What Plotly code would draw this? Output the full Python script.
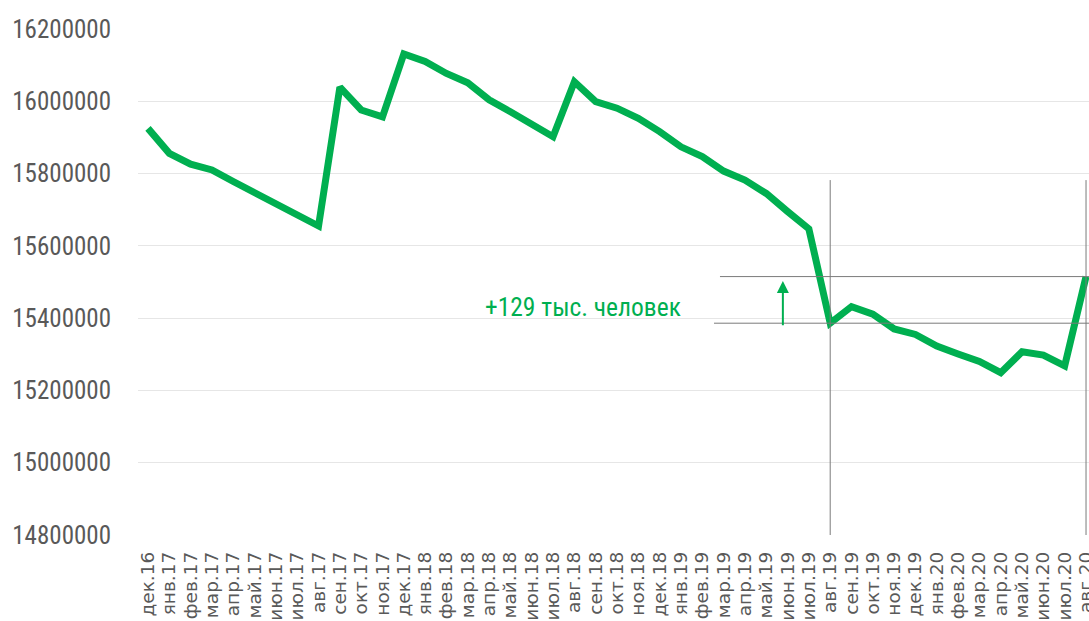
import plotly.graph_objects as go

months = ["дек.16",
          "янв.17", "фев.17", "мар.17", "апр.17", "май.17", "июн.17", "июл.17", "авг.17", "сен.17", "окт.17", "ноя.17", "дек.17",
          "янв.18", "фев.18", "мар.18", "апр.18", "май.18", "июн.18", "июл.18", "авг.18", "сен.18", "окт.18", "ноя.18", "дек.18",
          "янв.19", "фев.19", "мар.19", "апр.19", "май.19", "июн.19", "июл.19", "авг.19", "сен.19", "окт.19", "ноя.19", "дек.19",
          "янв.20", "фев.20", "мар.20", "апр.20", "май.20", "июн.20", "июл.20", "авг.20"]

values = [15925000,
          15856000, 15826000, 15810000, 15778000, 15747000, 15713000, 15685000, 15655000, 16039000, 15976000, 15957000, 16131000,
          16110000, 16077000, 16051000, 16004000, 15971000, 15939000, 15902000, 16054000, 15999000, 15981000, 15953000, 15916000,
          15874000, 15847000, 15807000, 15782000, 15745000, 15695000, 15647000, 15386000, 15432000, 15411000, 15370000, 15355000,
          15323000, 15301000, 15280000, 15249000, 15307000, 15298000, 15268000, 15515000]

y_ticks = [14800000, 15000000, 15200000, 15400000, 15600000, 15800000, 16000000, 16200000]

annotation_text = "+129 тыс. человек"

GREEN = "#00AF50"
FONT = "Roboto Condensed, DejaVu Sans Condensed, Liberation Sans Narrow, Roboto, sans-serif"
XFONT = "DejaVu Sans, sans-serif"

idx = list(range(len(months)))
i_start = months.index("авг.19")
i_end = months.index("авг.20")
v_start = values[i_start]
v_end = values[i_end]

fig = go.Figure()
fig.add_trace(go.Scatter(
    x=idx, y=values, mode="lines",
    line=dict(color=GREEN, width=7),
    cliponaxis=False, hoverinfo="skip", showlegend=False,
))

# white box behind label (hides the gridline)
fig.add_shape(type="rect", xref="x", yref="y", x0=14.73, x1=25.28, y0=15391000, y1=15462000,
              fillcolor="white", line=dict(width=0), layer="below")

# reference lines
line_style = dict(color="#7a7a7a", width=1)
fig.add_shape(type="line", xref="x", yref="y", x0=26.83, x1=44.3, y0=v_end, y1=v_end, line=line_style)
fig.add_shape(type="line", xref="x", yref="y", x0=26.55, x1=44.3, y0=v_start, y1=v_start, line=line_style)
fig.add_shape(type="line", xref="x", yref="y", x0=i_start, x1=i_start, y0=14800000, y1=15782000, line=line_style)
fig.add_shape(type="line", xref="x", yref="y", x0=i_end, x1=i_end, y0=14800000, y1=15782000, line=line_style)

# arrow
fig.add_annotation(x=29.78, y=15503000, ax=29.78, ay=15376000, xref="x", yref="y", axref="x", ayref="y",
                   showarrow=True, arrowhead=2, arrowsize=1.2, arrowwidth=2, arrowcolor=GREEN, text="")

# label
fig.add_annotation(x=20.4, y=15431000, xref="x", yref="y", text=annotation_text, showarrow=False,
                   font=dict(family=FONT, size=25.5, color=GREEN))

fig.update_xaxes(
    range=[-0.469, 44.14], automargin=False, ticklabeloverflow="allow",
    tickmode="array", tickvals=idx, ticktext=months, tickangle=-90,
    tickfont=dict(family=XFONT, size=18.5, color="#595959"),
    showgrid=False, zeroline=False, showline=False, ticks="", ticklabelstandoff=12,
)
fig.update_yaxes(
    range=[14800000, 16200000], automargin=False,
    tickmode="array", tickvals=y_ticks, ticktext=[str(v) for v in y_ticks],
    tickfont=dict(family=FONT, size=25, color="#595959"),
    showgrid=True, gridcolor="#e6e6e6", gridwidth=1, zeroline=False, showline=False,
    ticks="", ticklabelstandoff=26,
)
fig.update_layout(
    width=1089, height=621,
    margin=dict(l=138, r=0, t=29, b=86),
    plot_bgcolor="white", paper_bgcolor="white",
    showlegend=False, hovermode=False,
)
fig.write_html("out.html", config={"displayModeBar": False},
               post_script="document.body.style.margin='0';document.body.style.overflow='hidden';")
